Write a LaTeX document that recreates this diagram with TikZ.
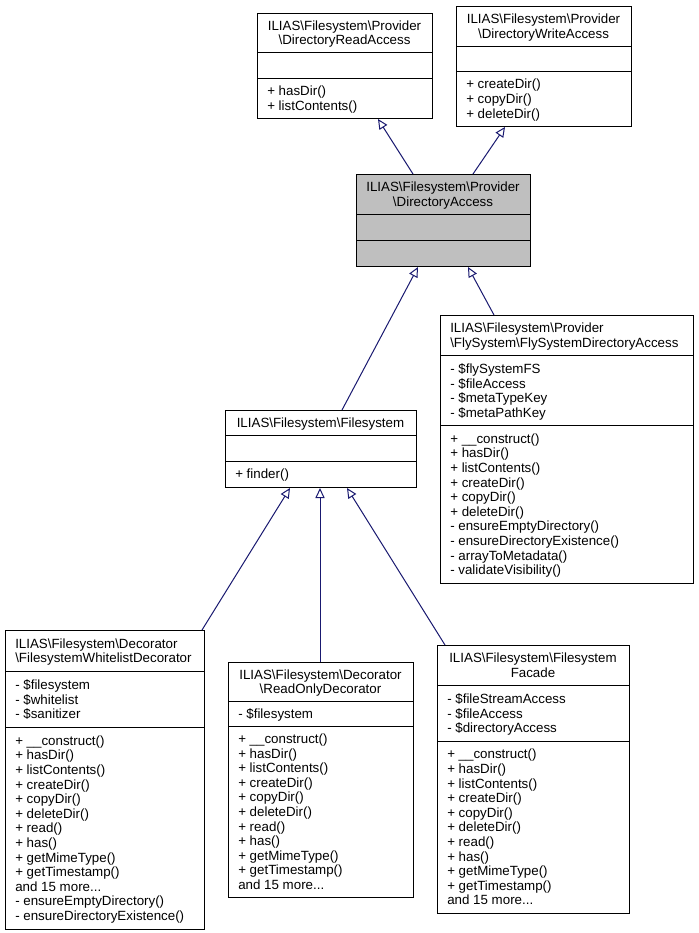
\documentclass[tikz,border=0pt]{standalone}
\usepackage{fontspec}
\setmainfont{Liberation Sans}
\usetikzlibrary{arrows.meta}
\newcommand{\pxu}{0.75pt}
\newcommand{\rowfont}{\fontsize{10pt}{10.95pt}\selectfont\lineskiplimit=-100pt\relax}
\newcommand{\rw}[1]{\rule[-1.8pt]{0pt}{10.95pt}#1}
\newcommand{\bs}{\textbackslash}
\definecolor{edgeblue}{RGB}{25,25,112}
\definecolor{boxgray}{RGB}{191,191,191}
\begin{document}
\begin{tikzpicture}[x=0.75pt,y=-0.75pt,
  cls/.style={draw=black, line width=0.75pt, rectangle, inner sep=0pt, anchor=north west},
  sep/.style={draw=black, line width=0.75pt},
  ttl/.style={inner sep=0pt, font=\rowfont, align=center, anchor=center},
  ttll/.style={inner sep=0pt, font=\rowfont, align=left, anchor=west},
  rows/.style={inner sep=0pt, font=\rowfont, align=left, anchor=west},
  inh/.style={draw=edgeblue, line width=0.75pt, -{Triangle[open, length=7.5pt, width=6.9pt]}}]
\fill[white] (0,0) rectangle (699,933);
\useasboundingbox (0,0) rectangle (699,933);

% DirectoryReadAccess
\node[cls, minimum width=175*\pxu, minimum height=105*\pxu] (rd) at (257,13) {};
\draw[sep] (rd.west |- 0,52.9) -- (rd.east |- 0,52.9);
\draw[sep] (rd.west |- 0,78.2) -- (rd.east |- 0,78.2);
\node[ttl] (rdt) at (344.5,32.95) {\rw{ILIAS\bs Filesystem\bs Provider}\\\rw{\bs DirectoryReadAccess}};
\node[rows] (rdm) at (267,98.1) {\rw{+ hasDir()}\\\rw{+ listContents()}};

% DirectoryWriteAccess
\node[cls, minimum width=175*\pxu, minimum height=120*\pxu] (wr) at (456,6) {};
\draw[sep] (wr.west |- 0,46) -- (wr.east |- 0,46);
\draw[sep] (wr.west |- 0,71.4) -- (wr.east |- 0,71.4);
\node[ttl] (wrt) at (543.5,26) {\rw{ILIAS\bs Filesystem\bs Provider}\\\rw{\bs DirectoryWriteAccess}};
\node[rows] (wrm) at (466,98.7) {\rw{+ createDir()}\\\rw{+ copyDir()}\\\rw{+ deleteDir()}};

% DirectoryAccess
\node[cls, fill=boxgray, minimum width=174*\pxu, minimum height=92*\pxu] (da) at (356,174) {};
\draw[sep] (da.west |- 0,214.4) -- (da.east |- 0,214.4);
\draw[sep] (da.west |- 0,240.2) -- (da.east |- 0,240.2);
\node[ttl] (dat) at (443,194.2) {\rw{ILIAS\bs Filesystem\bs Provider}\\\rw{\bs DirectoryAccess}};

% FlySystemDirectoryAccess
\node[cls, minimum width=253*\pxu, minimum height=268*\pxu] (fly) at (440,315) {};
\draw[sep] (fly.west |- 0,355.7) -- (fly.east |- 0,355.7);
\draw[sep] (fly.west |- 0,425.6) -- (fly.east |- 0,425.6);
\node[ttll] (flyt) at (450,335.35) {\rw{ILIAS\bs Filesystem\bs Provider}\\\rw{\bs FlySystem\bs FlySystemDirectoryAccess}};
\node[rows] (flya) at (450,390.65) {\rw{- \$flySystemFS}\\\rw{- \$fileAccess}\\\rw{- \$metaTypeKey}\\\rw{- \$metaPathKey}};
\node[rows] (flym) at (450,504.3) {\rw{+ \_\_construct()}\\\rw{+ hasDir()}\\\rw{+ listContents()}\\\rw{+ createDir()}\\\rw{+ copyDir()}\\\rw{+ deleteDir()}\\\rw{- ensureEmptyDirectory()}\\\rw{- ensureDirectoryExistence()}\\\rw{- arrayToMetadata()}\\\rw{- validateVisibility()}};

% Filesystem
\node[cls, minimum width=191*\pxu, minimum height=77*\pxu] (fs) at (225,410) {};
\draw[sep] (fs.west |- 0,435.7) -- (fs.east |- 0,435.7);
\draw[sep] (fs.west |- 0,461.3) -- (fs.east |- 0,461.3);
\node[ttl] (fst) at (320.5,422.85) {\rw{ILIAS\bs Filesystem\bs Filesystem}};
\node[rows] (fsm) at (235,474.15) {\rw{+ finder()}};

% FilesystemWhitelistDecorator
\node[cls, minimum width=199*\pxu, minimum height=299*\pxu] (wl) at (5,630) {};
\draw[sep] (wl.west |- 0,671.3) -- (wl.east |- 0,671.3);
\draw[sep] (wl.west |- 0,727.2) -- (wl.east |- 0,727.2);
\node[ttll] (wlt) at (15,650.65) {\rw{ILIAS\bs Filesystem\bs Decorator}\\\rw{\bs FilesystemWhitelistDecorator}};
\node[rows] (wla) at (15,699.25) {\rw{- \$filesystem}\\\rw{- \$whitelist}\\\rw{- \$sanitizer}};
\node[rows] (wlm) at (15,828.1) {\rw{+ \_\_construct()}\\\rw{+ hasDir()}\\\rw{+ listContents()}\\\rw{+ createDir()}\\\rw{+ copyDir()}\\\rw{+ deleteDir()}\\\rw{+ read()}\\\rw{+ has()}\\\rw{+ getMimeType()}\\\rw{+ getTimestamp()}\\\rw{and 15 more...}\\\rw{- ensureEmptyDirectory()}\\\rw{- ensureDirectoryExistence()}};

% ReadOnlyDecorator
\node[cls, minimum width=185*\pxu, minimum height=235*\pxu] (ro) at (228,662) {};
\draw[sep] (ro.west |- 0,701.4) -- (ro.east |- 0,701.4);
\draw[sep] (ro.west |- 0,726.2) -- (ro.east |- 0,726.2);
\node[ttl] (rot) at (320.5,681.7) {\rw{ILIAS\bs Filesystem\bs Decorator}\\\rw{\bs ReadOnlyDecorator}};
\node[rows] (roa) at (238,713.8) {\rw{- \$filesystem}};
\node[rows] (rom) at (238,811.6) {\rw{+ \_\_construct()}\\\rw{+ hasDir()}\\\rw{+ listContents()}\\\rw{+ createDir()}\\\rw{+ copyDir()}\\\rw{+ deleteDir()}\\\rw{+ read()}\\\rw{+ has()}\\\rw{+ getMimeType()}\\\rw{+ getTimestamp()}\\\rw{and 15 more...}};

% FilesystemFacade
\node[cls, minimum width=192*\pxu, minimum height=268*\pxu] (fa) at (437,645) {};
\draw[sep] (fa.west |- 0,685.7) -- (fa.east |- 0,685.7);
\draw[sep] (fa.west |- 0,741) -- (fa.east |- 0,741);
\node[ttl] (fat) at (533,665.35) {\rw{ILIAS\bs Filesystem\bs Filesystem}\\\rw{Facade}};
\node[rows] (faa) at (447,713.35) {\rw{- \$fileStreamAccess}\\\rw{- \$fileAccess}\\\rw{- \$directoryAccess}};
\node[rows] (fam) at (447,827) {\rw{+ \_\_construct()}\\\rw{+ hasDir()}\\\rw{+ listContents()}\\\rw{+ createDir()}\\\rw{+ copyDir()}\\\rw{+ deleteDir()}\\\rw{+ read()}\\\rw{+ has()}\\\rw{+ getMimeType()}\\\rw{+ getTimestamp()}\\\rw{and 15 more...}};

% inheritance connectors
\draw[inh] (da.north -| 413,0) -- (rd.south -| 378,0);
\draw[inh] (da.north -| 473,0) -- (wr.south -| 505,0);
\draw[inh] (fs.north -| 342,0) -- (da.south -| 418,0);
\draw[inh] (fly.north -| 494,0) -- (da.south -| 468,0);
\draw[inh] (wl.north -| 202,0) -- (fs.south -| 290,0);
\draw[inh] (ro.north -| 320,0) -- (fs.south -| 320,0);
\draw[inh] (fa.north -| 445,0) -- (fs.south -| 347,0);
\end{tikzpicture}
\end{document}
